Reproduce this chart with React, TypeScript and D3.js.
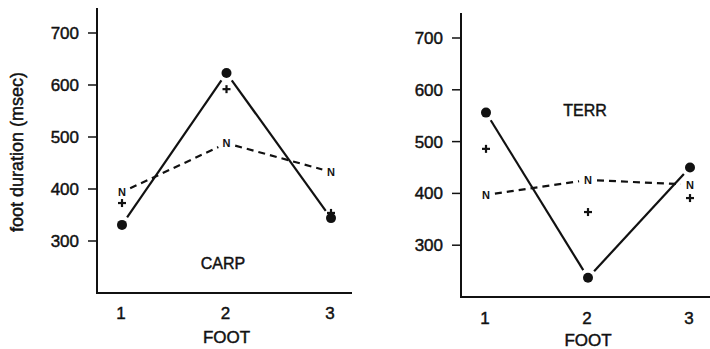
import React from "react";
import * as d3 from "d3";

const feet = [1, 2, 3];
const yTicks = [300, 400, 500, 600, 700];
const carpCircle = [331, 623, 344];
const carpPlus = [373, 592, 354];
const carpN = [394, 488, 433];
const terrCircle = [556, 237, 450];
const terrPlus = [486, 364, 391];
const terrN = [397, 426, 417];

const FONT = "'Liberation Sans', Arial, Helvetica, sans-serif";

type PanelProps = {
  axisX: number; axisTop: number; axisBottom: number; axisRight: number;
  xRange: [number, number]; y700: number;
  circle: number[]; plus: number[]; nv: number[];
  name: string; nameX: number; nameY: number;
  tickLabelY: number; footY: number; showYLabel?: boolean;
};

function trimmedSegments(pts: [number, number][], t0: number, t1: number) {
  const segs: string[] = [];
  for (let i = 0; i < pts.length - 1; i++) {
    const [x0, y0] = pts[i];
    const [x1, y1] = pts[i + 1];
    const len = Math.hypot(x1 - x0, y1 - y0);
    const ux = (x1 - x0) / len, uy = (y1 - y0) / len;
    segs.push(d3.line()([[x0 + ux * t0, y0 + uy * t0], [x1 - ux * t1, y1 - uy * t1]]) as string);
  }
  return segs;
}

const textStyle = { stroke: "#111", strokeWidth: 0.45 };

function Panel(p: PanelProps) {
  const x = d3.scaleLinear().domain([1, 3]).range(p.xRange);
  const y = d3.scaleLinear().domain([200, 700]).range([p.axisBottom, p.y700]);
  const cPts = feet.map((f, i) => [x(f), y(p.circle[i])] as [number, number]);
  const nPts = feet.map((f, i) => [x(f), y(p.nv[i])] as [number, number]);
  return (
    <g fontFamily={FONT} fill="#111">
      <line x1={p.axisX} x2={p.axisX} y1={p.axisTop} y2={p.axisBottom + 1} stroke="#111" strokeWidth={2} />
      <line x1={p.axisX - 1} x2={p.axisRight} y1={p.axisBottom} y2={p.axisBottom} stroke="#111" strokeWidth={2} />
      {yTicks.map((t) => (
        <g key={t}>
          <line x1={p.axisX - 9} x2={p.axisX} y1={y(t)} y2={y(t)} stroke="#111" strokeWidth={1.5} />
          <text x={p.axisX - 18} y={y(t) + 6} textAnchor="end" fontSize={17} style={textStyle}>{t}</text>
        </g>
      ))}
      {feet.map((f) => (
        <text key={f} x={x(f) - 1} y={p.tickLabelY} textAnchor="middle" fontSize={17} style={textStyle}>{f}</text>
      ))}
      <text x={(p.xRange[0] + p.xRange[1]) / 2} y={p.footY} textAnchor="middle" fontSize={17} style={textStyle}>FOOT</text>
      <text x={p.nameX} y={p.nameY} textAnchor="middle" fontSize={16} style={textStyle}>{p.name}</text>
      {trimmedSegments(cPts, 9, 9).map((d, i) => (
        <path key={"c" + i} d={d} stroke="#111" strokeWidth={2.2} fill="none" />
      ))}
      {trimmedSegments(nPts, 9, 9).map((d, i) => (
        <path key={"n" + i} d={d} stroke="#111" strokeWidth={2.2} fill="none" strokeDasharray="7,5" />
      ))}
      {cPts.map(([cx, cy], i) => (
        <circle key={"cc" + i} cx={cx} cy={cy} r={5} fill="#111" />
      ))}
      {feet.map((f, i) => (
        <g key={"p" + i} stroke="#111" strokeWidth={2.2}>
          <line x1={x(f) - 4} x2={x(f) + 4} y1={y(p.plus[i])} y2={y(p.plus[i])} />
          <line x1={x(f)} x2={x(f)} y1={y(p.plus[i]) - 4} y2={y(p.plus[i]) + 4} />
        </g>
      ))}
      {nPts.map(([nx, ny], i) => (
        <text key={"nt" + i} x={nx} y={ny + 4} textAnchor="middle" fontSize={11} fontWeight="bold">N</text>
      ))}
      {p.showYLabel && (
        <text transform={`translate(23,152) rotate(-90)`} textAnchor="middle" fontSize={18} style={textStyle}>
          foot duration (msec)
        </text>
      )}
    </g>
  );
}

export default function App() {
  return (
    <svg width={710} height={349} style={{ position: "absolute", left: 0, top: 0, background: "#fff" }}>
      <rect width={710} height={349} fill="#fff" />
      <Panel axisX={97} axisTop={8} axisBottom={293} axisRight={352} xRange={[122, 331]} y700={33}
        circle={carpCircle} plus={carpPlus} nv={carpN} name="CARP" nameX={223} nameY={269}
        tickLabelY={319} footY={343} showYLabel />
      <Panel axisX={461} axisTop={13} axisBottom={297} axisRight={710} xRange={[486, 690]} y700={38}
        circle={terrCircle} plus={terrPlus} nv={terrN} name="TERR" nameX={585} nameY={116}
        tickLabelY={324} footY={346} />
    </svg>
  );
}
